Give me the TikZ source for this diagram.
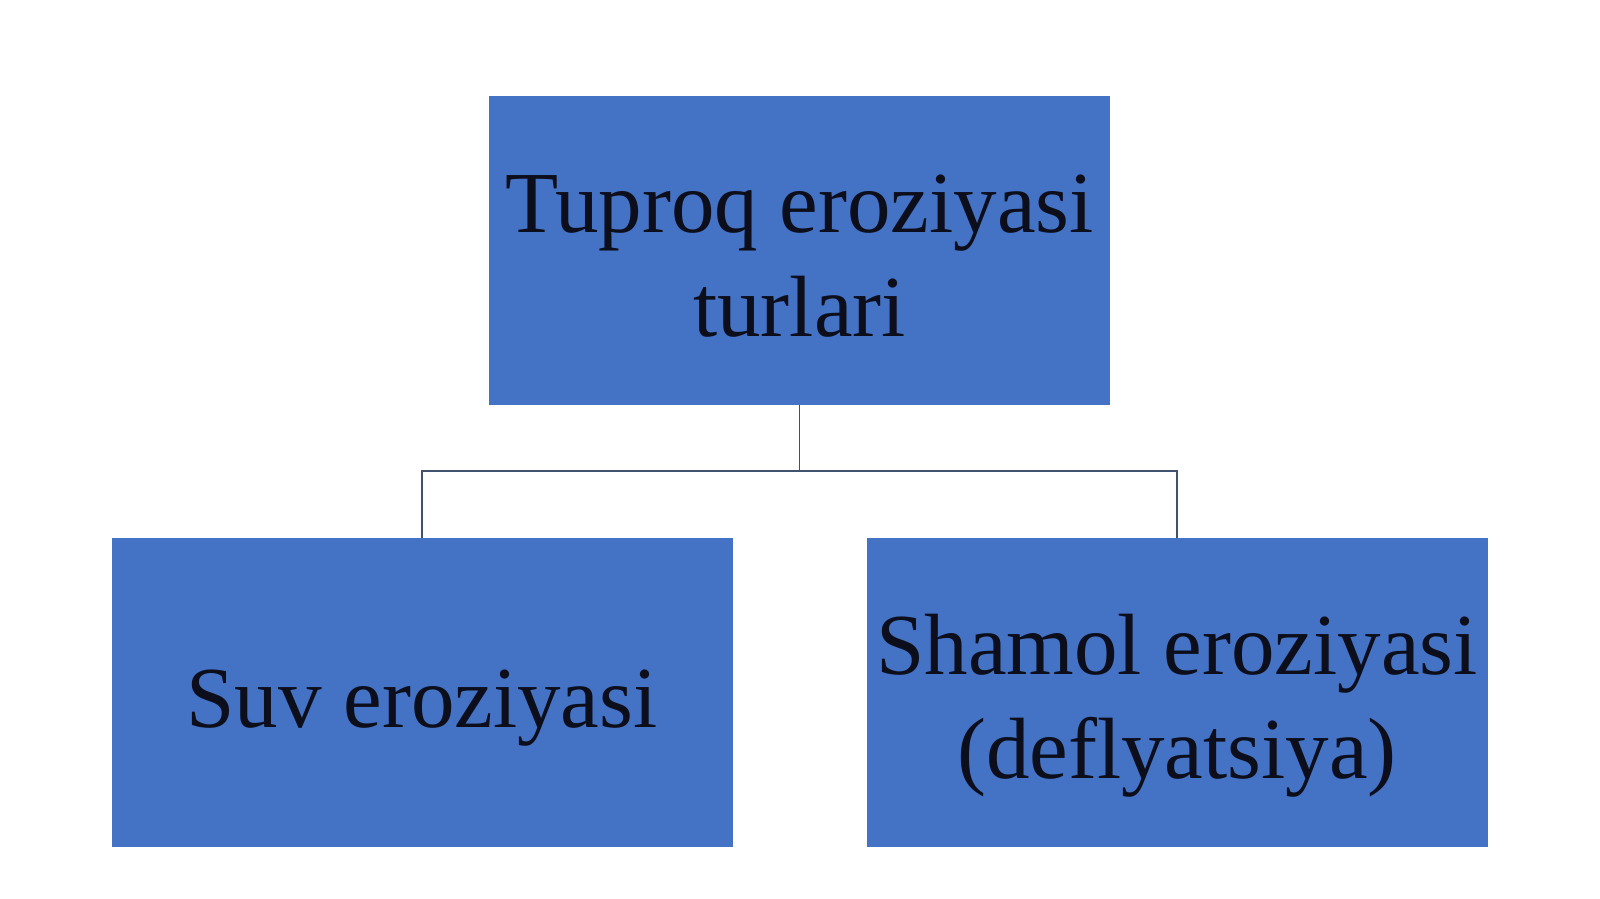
\documentclass[tikz,border=0pt]{standalone}
\usepackage{fontspec}
\setmainfont[Ligatures=NoCommon]{Liberation Serif}
\definecolor{boxblue}{RGB}{68,114,196}
\definecolor{linegray}{RGB}{66,82,110}
\definecolor{textdark}{RGB}{12,14,28}
\begin{document}
\begin{tikzpicture}[
        typenode/.style={rectangle, fill=boxblue, draw=none, minimum width=12.42cm, minimum height=6.18cm, align=center, text=textdark, font=\fontsize{49.5}{59.2}\selectfont},
        twoline/.style={text height=3.9cm, text depth=0.46cm},
        oneline/.style={text height=1.9cm, text depth=0.52cm},
        branch/.style={draw=linegray, line width=1.1pt},
    ]
        \useasboundingbox (0,0) rectangle (32,-17.98);

        %Nodes
        \node[typenode, twoline] (turlar) at (15.99,-5.01) {Tuproq eroziyasi\\turlari};
        \node[typenode, oneline] (suv) at (8.44,-13.85) {Suv eroziyasi};
        \node[typenode, twoline] (shamol) at (23.54,-13.85) {Shamol eroziyasi\\(deflyatsiya)};

        \coordinate (split) at (15.99,-9.42);

        %Lines
        \draw[branch] (turlar) -- (split);
        \draw[branch] (split) -| (suv);
        \draw[branch] (split) -| (shamol);
    \end{tikzpicture}
\end{document}
